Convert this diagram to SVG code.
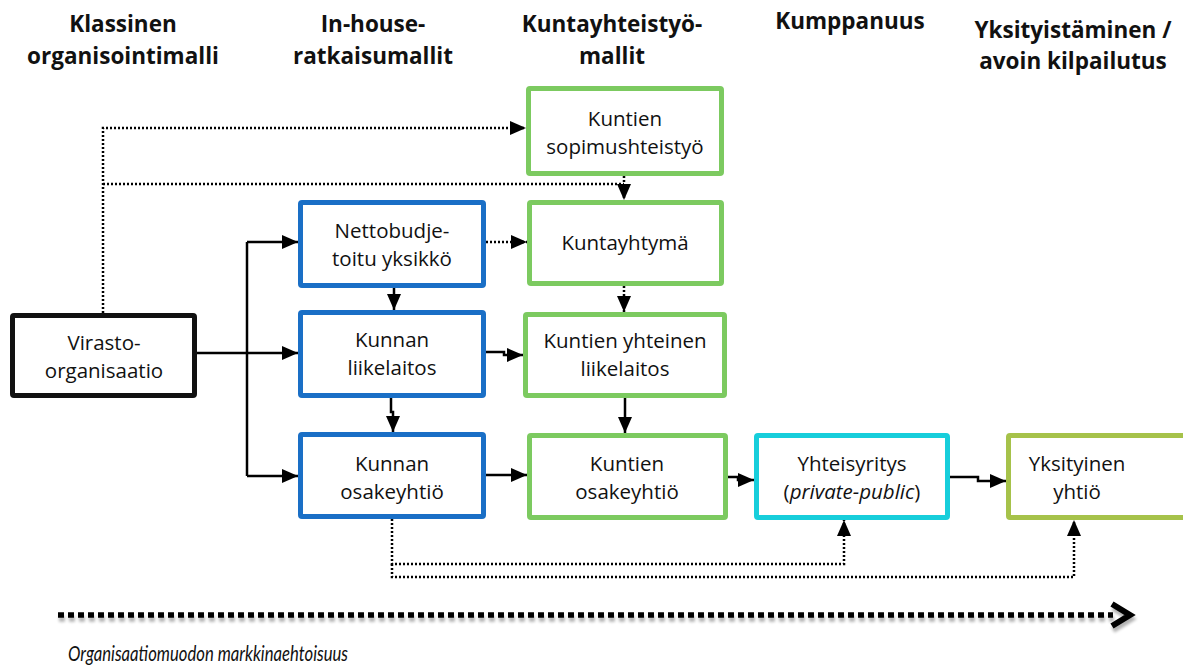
<svg xmlns="http://www.w3.org/2000/svg" width="1183" height="667" viewBox="0 0 1183 667">
  <defs>
    <marker id="ah" viewBox="0 0 16 14" refX="16" refY="7" markerWidth="16" markerHeight="14" markerUnits="userSpaceOnUse" orient="auto">
      <path d="M0,0 L16,7 L0,14 z" fill="#000"/>
    </marker>
    <filter id="sh" x="-5%" y="-200%" width="110%" height="500%">
      <feGaussianBlur stdDeviation="1.8"/>
    </filter>
  </defs>
  <style>
    .hd { font-family: "Open Sans", Lato, sans-serif; font-weight: bold; font-size: 22.5px; fill: #111; text-anchor: middle; }
    .bt { font-family: "Open Sans", "Noto Sans", sans-serif; font-size: 20.5px; fill: #111; text-anchor: middle; }
    .box { fill: #fff; stroke-width: 5; }
    .k { stroke: #111; }
    .b { stroke: #1a6fc6; }
    .g { stroke: #7cca60; }
    .c { stroke: #17cedb; }
    .o { stroke: #a6c24a; }
    .ln { fill: none; stroke: #000; stroke-width: 2.5; }
    .dt { fill: none; stroke: #000; stroke-width: 2.5; stroke-dasharray: 2 2; }
  </style>

  <!-- column headings -->
  <g id="headings">
    <text class="hd" x="123" y="32">Klassinen</text>
    <text class="hd" x="123" y="64">organisointimalli</text>
    <text class="hd" x="373" y="32">In-house-</text>
    <text class="hd" x="373" y="64">ratkaisumallit</text>
    <text class="hd" x="612" y="32">Kuntayhteistyö-</text>
    <text class="hd" x="612" y="64">mallit</text>
    <text class="hd" x="850" y="29">Kumppanuus</text>
    <text class="hd" x="1073" y="38">Yksityistäminen /</text>
    <text class="hd" x="1073" y="69">avoin kilpailutus</text>
  </g>

  <!-- connectors -->
  <g id="connectors">
    <!-- dotted links from the agency organisation -->
    <path class="dt" d="M103,313 V128 H526" marker-end="url(#ah)"/>
    <path class="dt" d="M103,184 H624"/>
    <path class="dt" d="M624,176 V200" marker-end="url(#ah)"/>
    <!-- solid trunk to in-house forms -->
    <path class="ln" d="M197,353 H247"/>
    <path class="ln" d="M247,242 V476"/>
    <path class="ln" d="M247,242 H298" marker-end="url(#ah)"/>
    <path class="ln" d="M247,353 H298" marker-end="url(#ah)"/>
    <path class="ln" d="M247,476 H298" marker-end="url(#ah)"/>
    <!-- in-house chain -->
    <path class="dt" d="M486,242 H527" marker-end="url(#ah)"/>
    <path class="ln" d="M394,288 V310" marker-end="url(#ah)"/>
    <path class="ln" d="M391,398 V412 H393 V432" marker-end="url(#ah)"/>
    <path class="ln" d="M486,352 H504 V355 H523" marker-end="url(#ah)"/>
    <path class="ln" d="M486,475 H527" marker-end="url(#ah)"/>
    <!-- inter-municipal chain -->
    <path class="dt" d="M624,286 V312" marker-end="url(#ah)"/>
    <path class="ln" d="M625,398 V433" marker-end="url(#ah)"/>
    <path class="ln" d="M728,477 H738 V480 H754" marker-end="url(#ah)"/>
    <path class="ln" d="M950,477 H978 V481 H1006" marker-end="url(#ah)"/>
    <!-- dotted links from the municipal company -->
    <path class="dt" d="M392,519 V564 H844 V520" marker-end="url(#ah)"/>
    <path class="dt" d="M392,564 V577 H1074 V520" marker-end="url(#ah)"/>
  </g>

  <!-- nodes -->
  <g id="virasto">
    <rect class="box k" x="12.5" y="315.5" width="182" height="80" rx="1.5"/>
    <text class="bt" x="104" y="350">Virasto-</text>
    <text class="bt" x="104" y="378">organisaatio</text>
  </g>
  <g id="nettobudjetoitu">
    <rect class="box b" x="300.5" y="202.5" width="183" height="83" rx="1.5"/>
    <text class="bt" x="392" y="238">Nettobudje-</text>
    <text class="bt" x="392" y="266">toitu yksikkö</text>
  </g>
  <g id="kunnan-liikelaitos">
    <rect class="box b" x="300.5" y="312.5" width="183" height="83" rx="1.5"/>
    <text class="bt" x="392" y="347">Kunnan</text>
    <text class="bt" x="392" y="375">liikelaitos</text>
  </g>
  <g id="kunnan-osakeyhtio">
    <rect class="box b" x="300.5" y="434.5" width="183" height="82" rx="1.5"/>
    <text class="bt" x="392" y="471">Kunnan</text>
    <text class="bt" x="392" y="499">osakeyhtiö</text>
  </g>
  <g id="sopimushteistyo">
    <rect class="box g" x="528.5" y="88.5" width="193" height="85" rx="1.5"/>
    <text class="bt" x="625" y="126">Kuntien</text>
    <text class="bt" x="625" y="154">sopimushteistyö</text>
  </g>
  <g id="kuntayhtyma">
    <rect class="box g" x="529.5" y="202.5" width="192" height="81" rx="1.5"/>
    <text class="bt" x="625" y="250">Kuntayhtymä</text>
  </g>
  <g id="yhteinen-liikelaitos">
    <rect class="box g" x="525.5" y="314.5" width="199" height="81" rx="1.5"/>
    <text class="bt" x="625" y="348">Kuntien yhteinen</text>
    <text class="bt" x="625" y="376">liikelaitos</text>
  </g>
  <g id="kuntien-osakeyhtio">
    <rect class="box g" x="529.5" y="435.5" width="196" height="82" rx="1.5"/>
    <text class="bt" x="627" y="471">Kuntien</text>
    <text class="bt" x="627" y="499">osakeyhtiö</text>
  </g>
  <g id="yhteisyritys">
    <rect class="box c" x="756.5" y="435.5" width="191" height="82" rx="1.5"/>
    <text class="bt" x="852" y="471">Yhteisyritys</text>
    <text class="bt" x="852" y="499">(<tspan font-style="italic">private-public</tspan>)</text>
  </g>
  <g id="yksityinen">
    <rect class="box o" x="1008.5" y="435.5" width="185" height="82" rx="1.5"/>
    <text class="bt" x="1077" y="471">Yksityinen</text>
    <text class="bt" x="1077" y="499">yhtiö</text>
  </g>

  <!-- market-orientation axis -->
  <g id="axis">
    <g opacity="0.3" filter="url(#sh)" transform="translate(1,4)">
      <line x1="58" y1="615" x2="1113" y2="615" stroke="#000" stroke-width="5.5" stroke-dasharray="6 4"/>
      <path d="M1112,604 L1130,615 L1112,626" fill="none" stroke="#000" stroke-width="6"/>
    </g>
    <line x1="58" y1="615" x2="1113" y2="615" stroke="#000" stroke-width="5.5" stroke-dasharray="6 4"/>
    <path d="M1112,604 L1130,615 L1112,626" fill="none" stroke="#000" stroke-width="6" stroke-linejoin="miter"/>
    <text x="68" y="661" font-family="Lato, 'Open Sans', sans-serif" font-style="italic" font-size="21.5" fill="#111" textLength="280" lengthAdjust="spacingAndGlyphs">Organisaatiomuodon markkinaehtoisuus</text>
  </g>
</svg>
